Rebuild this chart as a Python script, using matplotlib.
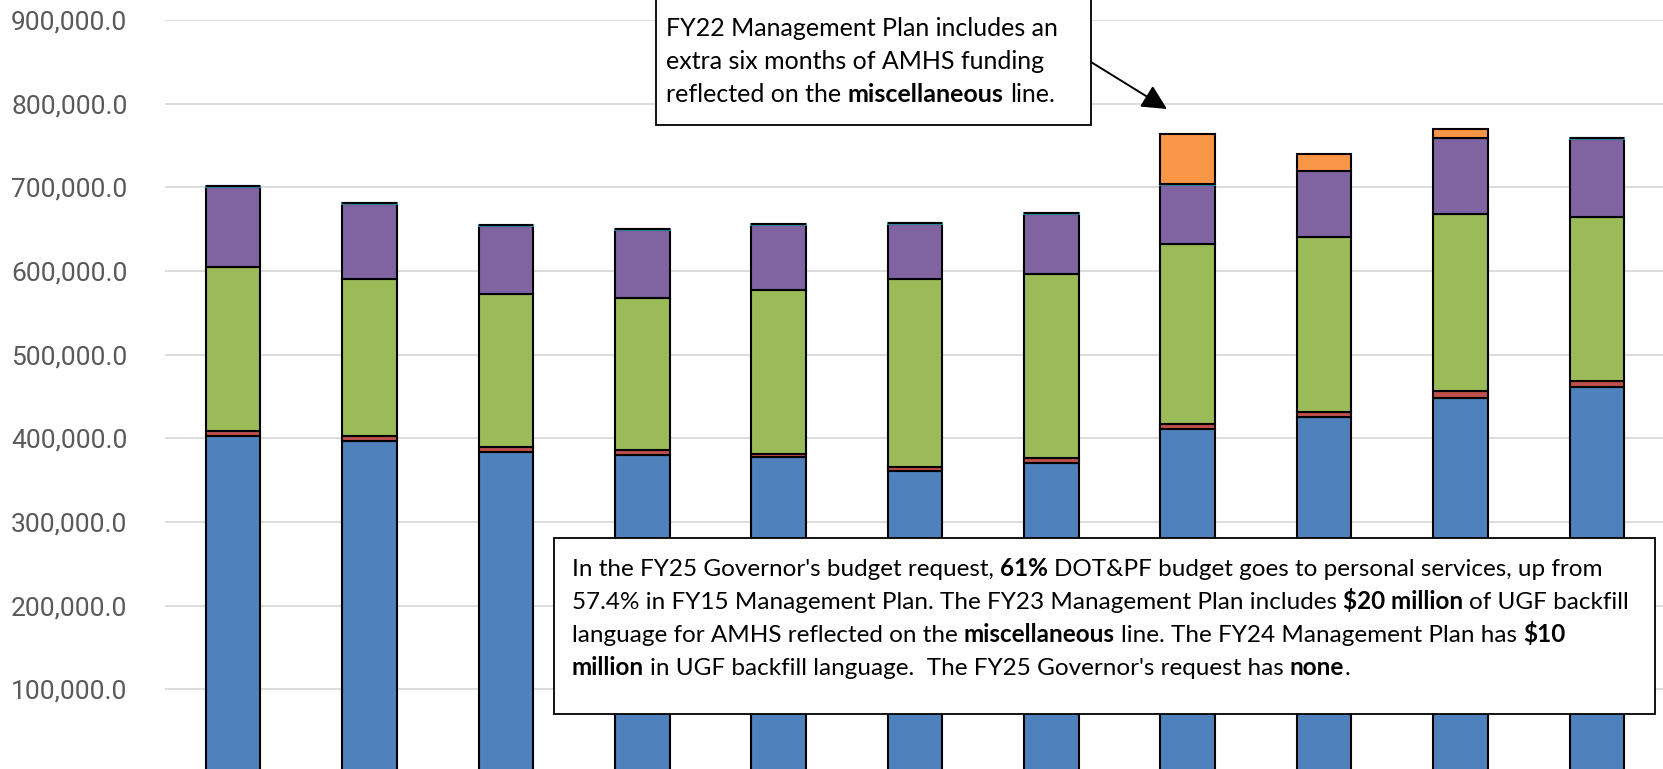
import matplotlib
matplotlib.use("Agg")
import matplotlib.pyplot as plt
from matplotlib.transforms import IdentityTransform
from matplotlib.patches import Rectangle, FancyArrowPatch
from matplotlib.ticker import FuncFormatter
import numpy as np

# ---------------- data ----------------
categories = ["FY15", "FY16", "FY17", "FY18", "FY19", "FY20", "FY21", "FY22", "FY23", "FY24", "FY25"]
personal_services = [402400, 396400, 383600, 380500, 377300, 361000, 371000, 410700, 425800, 448500, 461000]
travel = [6000, 6400, 6400, 6000, 4400, 5200, 5100, 6800, 6000, 7500, 8000]
services = [196100, 188200, 182700, 181700, 195300, 224300, 220700, 214500, 208500, 211700, 195000]
commodities = [95500, 89500, 80700, 81100, 78300, 65800, 71000, 71100, 78700, 91000, 93900]
capital_outlay = [1200, 1200, 1200, 1200, 1200, 1000, 1000, 800, 800, 800, 800]
miscellaneous = [0, 0, 0, 0, 0, 0, 0, 60000, 20600, 9900, 0]
y_ticks = [100000, 200000, 300000, 400000, 500000, 600000, 700000, 800000, 900000]

series = [
    (personal_services, "#4F81BD", "black"),
    (travel, "#C0504D", "black"),
    (services, "#9BBB59", "black"),
    (commodities, "#8064A2", "black"),
    (capital_outlay, "#4BACC6", "#31859C"),
    (miscellaneous, "#F79646", "black"),
]

W, H = 1663, 769
FONT = "Lato"
plt.rcParams["font.family"] = [FONT, "DejaVu Sans"]

fig = plt.figure(figsize=(W / 100, H / 100), dpi=100)
fig.patch.set_facecolor("white")

# axes: y=0 sits just below the bottom edge, 900k at y=20 px
ax_left, ax_right = 165, 1665
y0_px, ytop_px = 773, 20
ax = fig.add_axes([ax_left / W, (H - y0_px) / H, (ax_right - ax_left) / W, (y0_px - ytop_px) / H])

x = np.arange(len(categories))
bottom = np.zeros(len(categories))
for vals, color, ec in series:
    v = np.array(vals, dtype=float)
    ax.bar(x, v, width=0.40, bottom=bottom, color=color, edgecolor=ec, linewidth=1.5, zorder=3)
    bottom += v

ax.set_xlim(-0.5, len(categories) - 0.5)
ax.set_ylim(0, 900000)
ax.set_xticks(x)
ax.set_xticklabels(categories)
ax.set_yticks(y_ticks)
ax.yaxis.set_major_formatter(FuncFormatter(lambda v, p: f"{v:,.1f}"))
ax.grid(axis="y", color="#D9D9D9", linewidth=1.3, zorder=0)
ax.set_axisbelow(True)
for s in ax.spines.values():
    s.set_visible(False)

fig.canvas.draw()
renderer = fig.canvas.get_renderer()


def text_width(s, size, bold=False, family=None):
    t = fig.text(0, 0, s, fontsize=size, fontweight="bold" if bold else "normal",
                 transform=IdentityTransform(), parse_math=False)
    if family:
        t.set_family(family)
    w = t.get_window_extent(renderer).width
    t.remove()
    return w


# fit tick label size to reference width (~117 px for "900,000.0")
TICK_FONT = ["Roboto", "DejaVu Sans"]
tick_size = 14 * 117 / text_width("900,000.0", 14, family=TICK_FONT)
ax.tick_params(axis="y", length=0, pad=27, labelsize=tick_size, labelcolor="#595959")
for lab in ax.get_yticklabels():
    lab.set_family(TICK_FONT)
ax.tick_params(axis="x", length=0, labelbottom=False)


def space_w(size, bold=False):
    return text_width("a a", size, bold) - text_width("aa", size, bold)


def line_width(segs, size):
    total = 0
    for s, b in segs:
        stripped = s.strip(" ")
        lead = len(s) - len(s.lstrip(" "))
        trail = len(s) - len(s.rstrip(" "))
        sw = space_w(size, b)
        total += lead * sw + (text_width(stripped, size, b) if stripped else 0) + trail * sw
    return total


def draw_line(segs, x0, ycenter_img, size, color="black"):
    xp = x0
    yb = H - ycenter_img - size * 1.389 * 0.36
    for s, b in segs:
        stripped = s.strip(" ")
        lead = len(s) - len(s.lstrip(" "))
        trail = len(s) - len(s.rstrip(" "))
        sw = space_w(size, b)
        xp += lead * sw
        if stripped:
            t = fig.text(xp, yb, stripped, fontsize=size, fontweight="bold" if b else "normal",
                         transform=IdentityTransform(), va="baseline", ha="left",
                         color=color, parse_math=False, zorder=11)
            xp += t.get_window_extent(renderer).width
        xp += trail * sw


# ---------------- annotation box 1 ----------------
box1_lines = [
    [("FY22 Management Plan includes an", False)],
    [("extra six months of AMHS funding", False)],
    [("reflected on the ", False), ("miscellaneous", True), (" line.", False)],
]
size1 = 14 * 394 / line_width(box1_lines[0], 14)
fig.add_artist(Rectangle((656, H - 125), 1091 - 656, 125 + 3, transform=IdentityTransform(),
                         facecolor="white", edgecolor="black", linewidth=1.3, zorder=10))
for i, segs in enumerate(box1_lines):
    draw_line(segs, 666, 26.5 + i * 33.3, size1)

fig.add_artist(FancyArrowPatch((1091, H - 62), (1167, H - 109), transform=IdentityTransform(),
                               arrowstyle="-|>", mutation_scale=38, linewidth=1.4,
                               color="black", shrinkA=0, shrinkB=0, zorder=10))

# ---------------- annotation box 2 ----------------
box2_lines = [
    [("In the FY25 Governor's budget request, ", False), ("61%", True),
     (" DOT&PF budget goes to personal services, up from", False)],
    [("57.4% in FY15 Management Plan. The FY23 Management Plan includes ", False),
     ("$20 million", True), (" of UGF backfill", False)],
    [("language for AMHS reflected on the ", False), ("miscellaneous", True),
     (" line. The FY24 Management Plan has ", False), ("$10", True)],
    [("million", True), (" in UGF backfill language.  The FY25 Governor's request has ", False),
     ("none", True), (".", False)],
]
size2 = 14 * 1035 / line_width(box2_lines[0], 14)
fig.add_artist(Rectangle((554, H - 714), 1655 - 554, 714 - 538, transform=IdentityTransform(),
                         facecolor="white", edgecolor="black", linewidth=1.3, zorder=10))
for i, segs in enumerate(box2_lines):
    draw_line(segs, 571.6, 567.5 + i * 32.9, size2)

fig.savefig("out.png", dpi=100, facecolor="white")
